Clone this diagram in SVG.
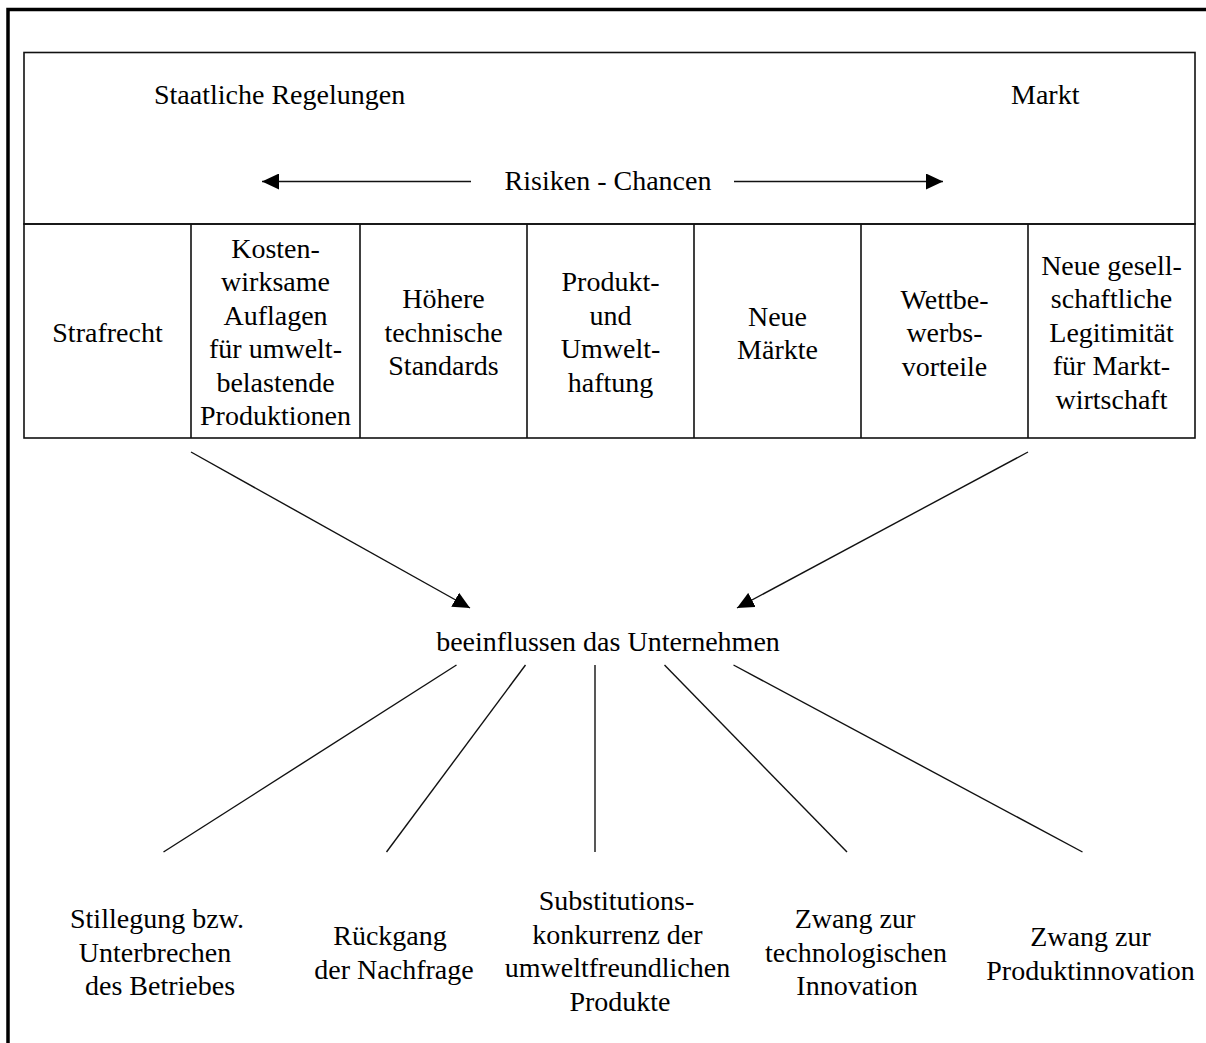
<svg xmlns="http://www.w3.org/2000/svg" width="1206" height="1043" viewBox="0 0 1206 1043">
  <style>
    text { font-family: "Liberation Serif", "Times New Roman", serif; font-size: 28px; fill: #000; }
    .c { text-anchor: middle; }
    .frame { stroke: #000; stroke-width: 3.5; fill: none; }
    .grid { stroke: #111; stroke-width: 1.6; fill: none; }
    .link { stroke: #111; stroke-width: 1.4; fill: none; }
  </style>
  <defs>
    <marker id="head" markerUnits="userSpaceOnUse" markerWidth="18" markerHeight="16" refX="17" refY="8" orient="auto">
      <path d="M0,0 L17,8 L0,16 Z" fill="#000"/>
    </marker>
  </defs>

  <rect width="1206" height="1043" fill="#fff"/>

  <!-- page frame (top and left edges) -->
  <path class="frame" d="M8,1043 L8,9.5 L1206,9.5"/>

  <!-- header band -->
  <g id="header">
    <rect class="grid" x="24" y="52.5" width="1171" height="171.5"/>
    <text x="154" y="104">Staatliche Regelungen</text>
    <text x="1011" y="104">Markt</text>
    <text class="c" x="608" y="190">Risiken - Chancen</text>
  </g>

  <!-- factor cells -->
  <g id="cells">
    <rect class="grid" x="24" y="224" width="1171" height="214"/>
    <path class="grid" d="M191,224 V438 M360,224 V438 M527,224 V438 M694,224 V438 M861,224 V438 M1028,224 V438"/>
  </g>
  <g id="cell-strafrecht">
    <text class="c" x="107.5" y="341.5">Strafrecht</text>
  </g>
  <g id="cell-auflagen">
    <text class="c" y="257.75"><tspan x="275.5">Kosten-</tspan><tspan x="275.5" dy="33.5">wirksame</tspan><tspan x="275.5" dy="33.5">Auflagen</tspan><tspan x="275.5" dy="33.5">für umwelt-</tspan><tspan x="275.5" dy="33.5">belastende</tspan><tspan x="275.5" dy="33.5">Produktionen</tspan></text>
  </g>
  <g id="cell-standards">
    <text class="c" y="308"><tspan x="443.5">Höhere</tspan><tspan x="443.5" dy="33.5">technische</tspan><tspan x="443.5" dy="33.5">Standards</tspan></text>
  </g>
  <g id="cell-haftung">
    <text class="c" y="291.25"><tspan x="610.5">Produkt-</tspan><tspan x="610.5" dy="33.5">und</tspan><tspan x="610.5" dy="33.5">Umwelt-</tspan><tspan x="610.5" dy="33.5">haftung</tspan></text>
  </g>
  <g id="cell-maerkte">
    <text class="c" y="325.5"><tspan x="777.5">Neue</tspan><tspan x="777.5" dy="33.5">Märkte</tspan></text>
  </g>
  <g id="cell-wettbewerb">
    <text class="c" y="308.5"><tspan x="944.5">Wettbe-</tspan><tspan x="944.5" dy="33.5">werbs-</tspan><tspan x="944.5" dy="33.5">vorteile</tspan></text>
  </g>
  <g id="cell-legitimitaet">
    <text class="c" y="274.5"><tspan x="1111.5">Neue gesell-</tspan><tspan x="1111.5" dy="33.5">schaftliche</tspan><tspan x="1111.5" dy="33.5">Legitimität</tspan><tspan x="1111.5" dy="33.5">für Markt-</tspan><tspan x="1111.5" dy="33.5">wirtschaft</tspan></text>
  </g>

  <!-- central statement -->
  <g id="unternehmen">
    <text class="c" x="608" y="651">beeinflussen das Unternehmen</text>
  </g>

  <!-- consequences -->
  <g id="folge-stillegung">
    <text class="c" y="928"><tspan x="157">Stillegung bzw.</tspan><tspan x="155" dy="33.5">Unterbrechen</tspan><tspan x="160" dy="33.5">des Betriebes</tspan></text>
  </g>
  <g id="folge-nachfrage">
    <text class="c" y="945"><tspan x="390">Rückgang</tspan><tspan x="394" dy="33.5">der Nachfrage</tspan></text>
  </g>
  <g id="folge-substitution">
    <text class="c" y="910"><tspan x="616.5">Substitutions-</tspan><tspan x="617.5" dy="33.5">konkurrenz der</tspan><tspan x="617.5" dy="33.5">umweltfreundlichen</tspan><tspan x="620" dy="33.5">Produkte</tspan></text>
  </g>
  <g id="folge-technologie">
    <text class="c" y="928"><tspan x="855">Zwang zur</tspan><tspan x="856" dy="33.5">technologischen</tspan><tspan x="857" dy="33.5">Innovation</tspan></text>
  </g>
  <g id="folge-produkt">
    <text class="c" y="946"><tspan x="1090.5">Zwang zur</tspan><tspan x="1090.5" dy="33.5">Produktinnovation</tspan></text>
  </g>

  <!-- connectors -->
  <g id="connectors">
    <line class="link" x1="471" y1="181.5" x2="262" y2="181.5" marker-end="url(#head)"/>
    <line class="link" x1="734" y1="181.5" x2="943" y2="181.5" marker-end="url(#head)"/>
    <line class="link" x1="191" y1="452" x2="470" y2="608" marker-end="url(#head)"/>
    <line class="link" x1="1028" y1="452" x2="737" y2="608" marker-end="url(#head)"/>
    <line class="link" x1="456.5" y1="665" x2="163.5" y2="852"/>
    <line class="link" x1="525.5" y1="665" x2="386.5" y2="852"/>
    <line class="link" x1="595" y1="665" x2="595" y2="852"/>
    <line class="link" x1="664.5" y1="665" x2="847" y2="852"/>
    <line class="link" x1="733.5" y1="665" x2="1082.5" y2="852"/>
  </g>
</svg>
